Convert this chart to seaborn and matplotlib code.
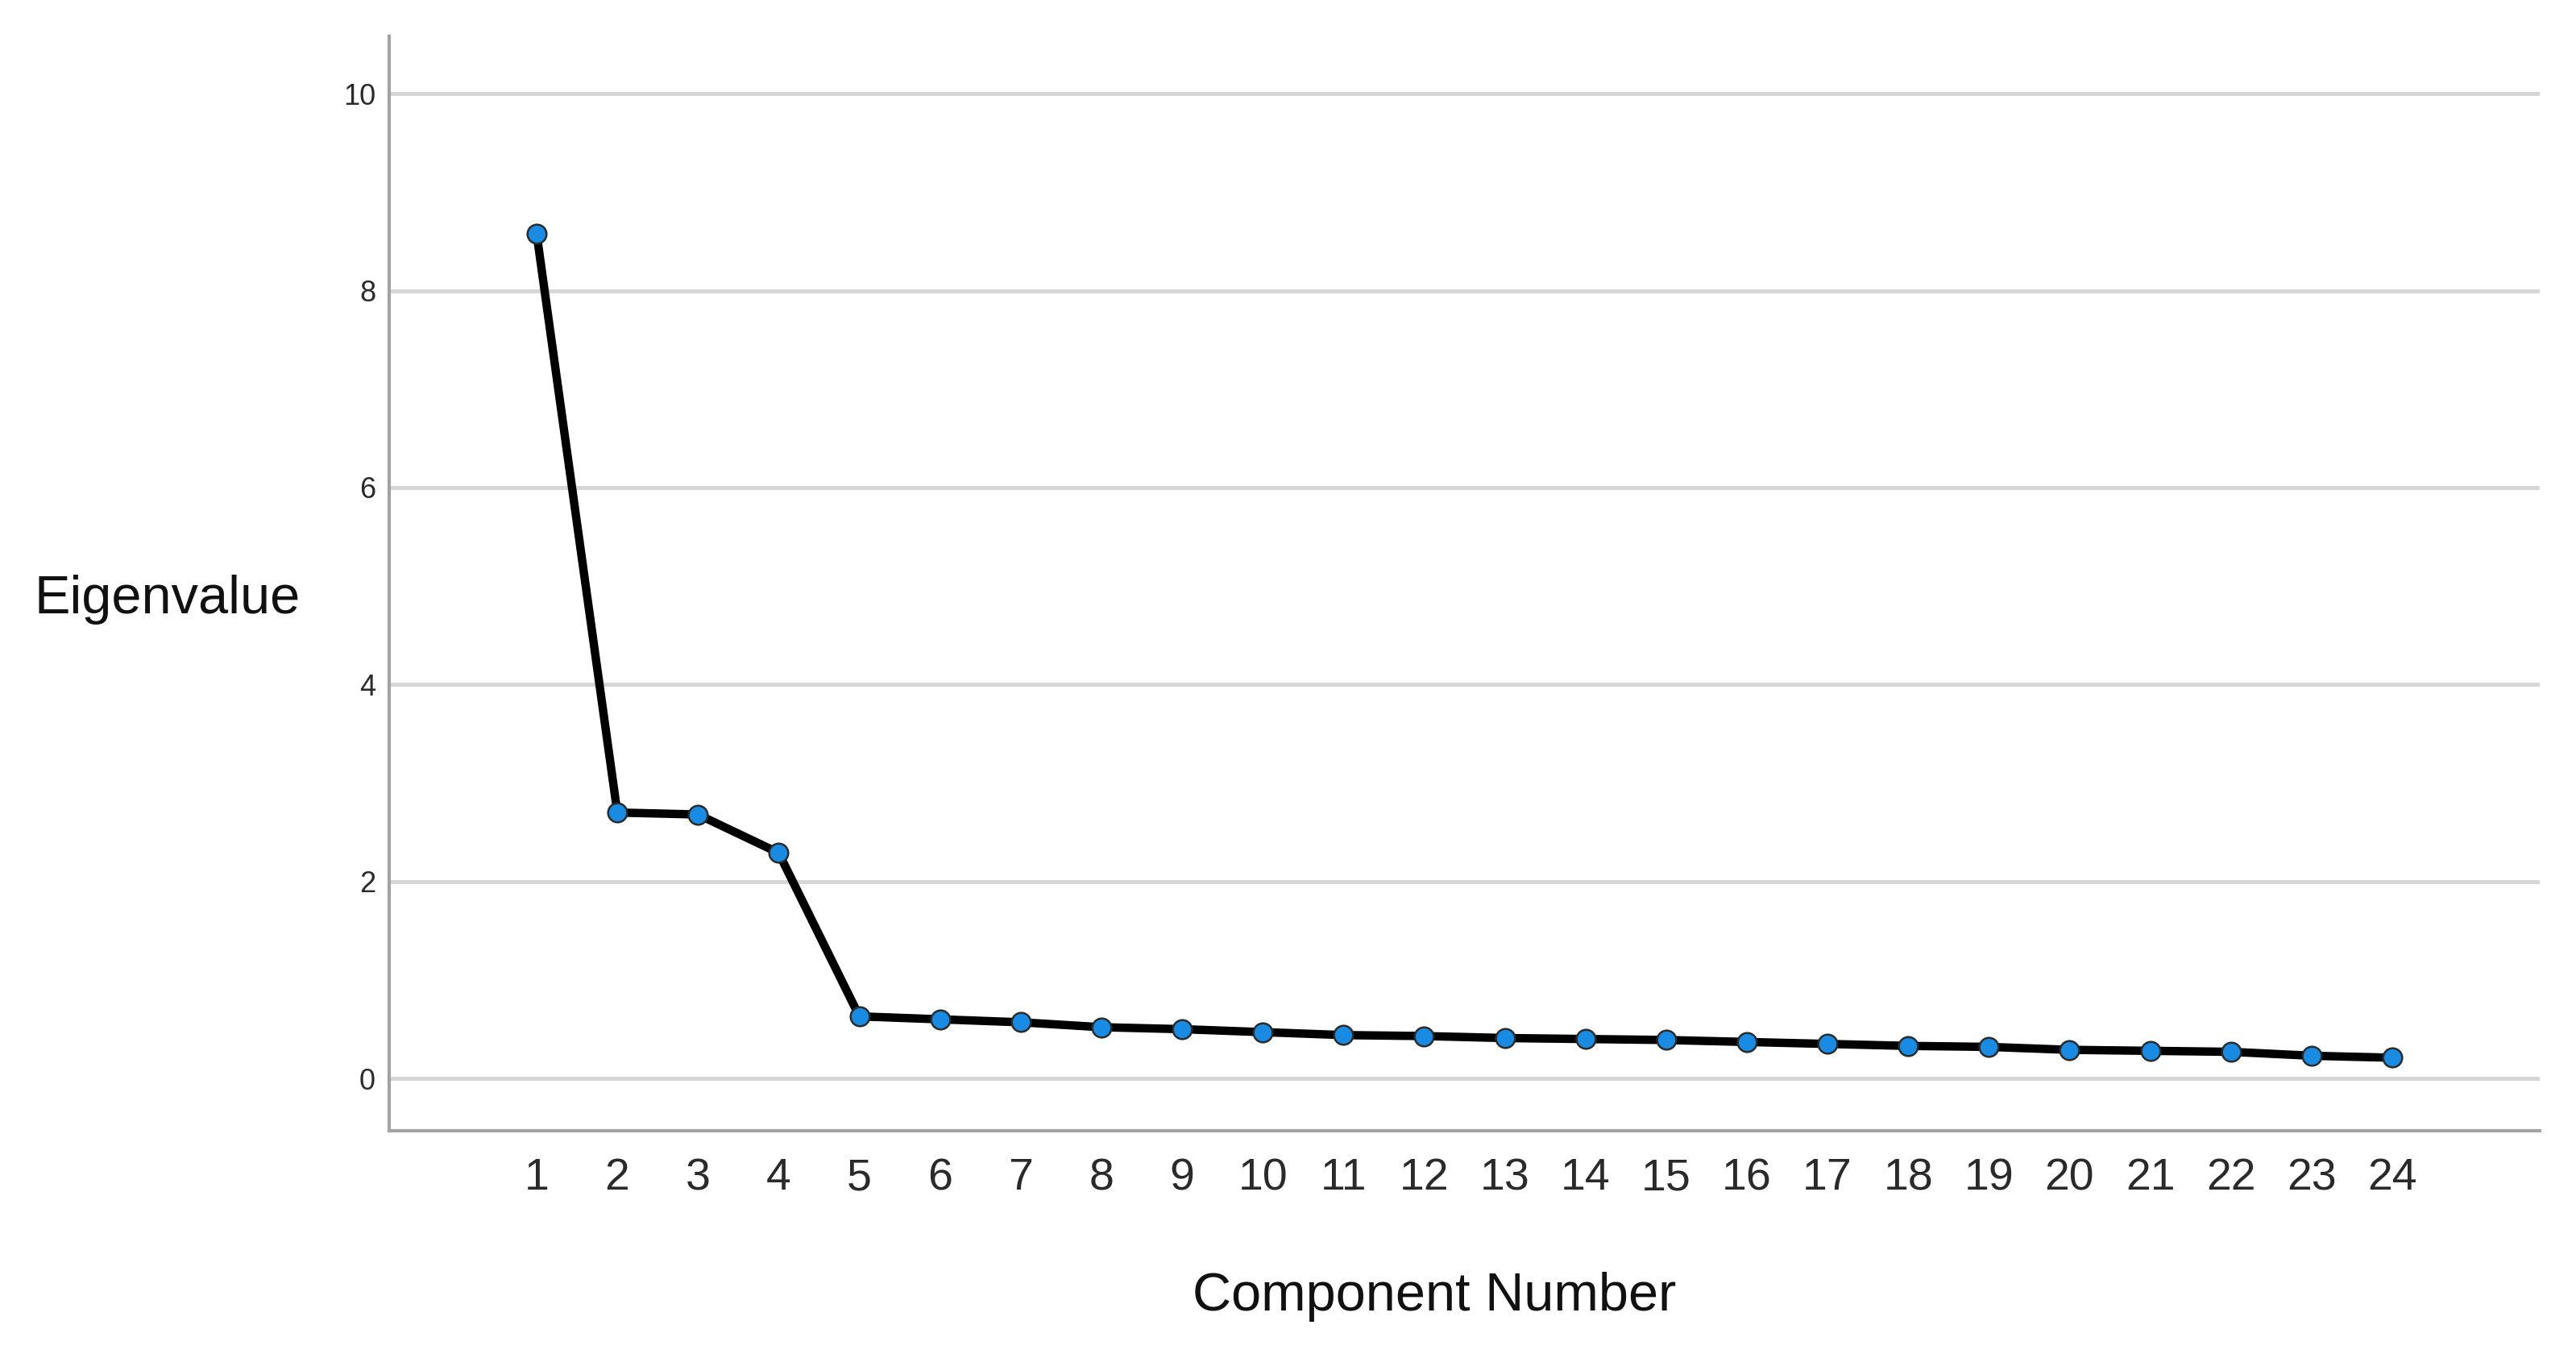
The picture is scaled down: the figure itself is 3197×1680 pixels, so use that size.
import matplotlib
matplotlib.use("Agg")
import matplotlib.pyplot as plt
import pandas as pd
import seaborn as sns

# ── scree plot values ────────────────────────────────────────────────────────
components = list(range(1, 25))
eigenvalues = [8.58, 2.70, 2.68, 2.29, 0.63, 0.60, 0.57, 0.52, 0.50, 0.47,
               0.44, 0.43, 0.41, 0.40, 0.39, 0.37, 0.35, 0.33, 0.32, 0.29,
               0.28, 0.27, 0.23, 0.21]
y_ticks = [0, 2, 4, 6, 8, 10]

sns.set_style("white")
plt.rcParams["font.family"] = ["Liberation Sans", "DejaVu Sans"]

df = pd.DataFrame({"Component": components, "Eigenvalue": eigenvalues})

fig = plt.figure(figsize=(31.97, 16.8), dpi=100)
ax = fig.add_axes([0.151, 0.165, 0.835, 0.808])

sns.lineplot(
    data=df, x="Component", y="Eigenvalue", ax=ax,
    color="black", linewidth=7.5,
    marker="o", markersize=17,
    markerfacecolor="#1a8be3", markeredgecolor="#2b2b2b", markeredgewidth=1.8,
    zorder=3,
)

ax.set_xlim(-0.83, 25.83)
ax.set_ylim(-0.53, 10.58)
ax.set_xticks(components)
ax.set_yticks(y_ticks)
ax.set_xticklabels([str(c) for c in components], fontsize=40, color="#2a2a2a")
ax.set_yticklabels([str(t) for t in y_ticks], fontsize=26, color="#2a2a2a")
ax.tick_params(axis="both", length=0)
ax.tick_params(axis="x", pad=24)
ax.tick_params(axis="y", pad=12)

ax.yaxis.grid(True, color="#d6d6d6", linewidth=3.5, zorder=0)
ax.xaxis.grid(False)
ax.set_axisbelow(True)

for side in ["top", "right"]:
    ax.spines[side].set_visible(False)
for side in ["left", "bottom"]:
    ax.spines[side].set_color("#a3a3a3")
    ax.spines[side].set_linewidth(3)

ax.set_ylabel("Eigenvalue", rotation=0, fontsize=48, color="#111111",
              ha="center", va="center")
ax.yaxis.set_label_coords(-0.103, 0.485)
ax.set_xlabel("Component Number", fontsize=48, color="#111111",
              ha="center", va="center")
ax.xaxis.set_label_coords(0.486, -0.152)

fig.savefig("out.png", dpi=100)
